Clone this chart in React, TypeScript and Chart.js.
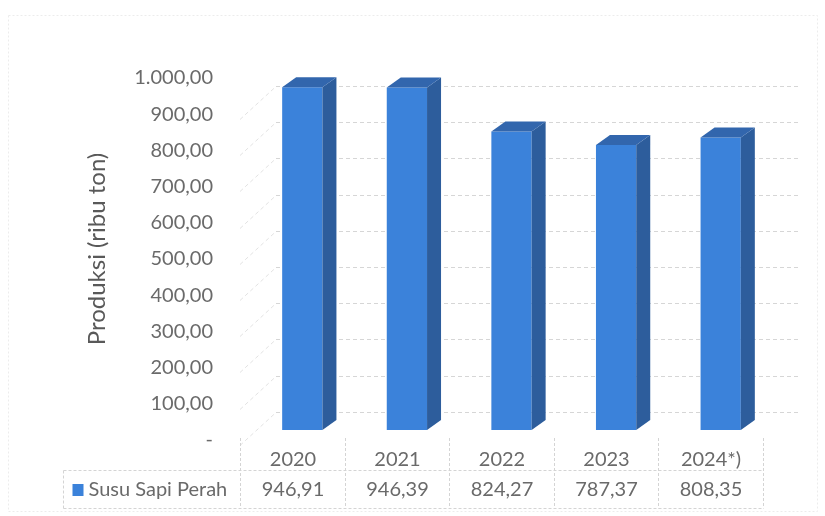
import React, { useEffect, useRef } from 'react';
import { Chart, registerables } from 'chart.js';

Chart.register(...registerables);

const categories = ['2020', '2021', '2022', '2023', '2024*)'];
const seriesName = 'Susu Sapi Perah';
const values = [946.91, 946.39, 824.27, 787.37, 808.35];
const yMin = 0;
const yMax = 1000;
const yStep = 100;
const yTitle = 'Produksi (ribu ton)';

const FONT = 'Lato';
const TEXT_COLOR = '#6a6a6a';
const FRONT = '#3b82da';
const SIDE = '#2d5d9c';
const TOP = '#3266ad';
const DEPTH_X = 14;
const DEPTH_Y = -10;

function fmt(v: number): string {
  if (v === 0) return '-';
  const s = v.toFixed(2);
  const [i, d] = s.split('.');
  return i.replace(/\B(?=(\d{3})+(?!\d))/g, '.') + ',' + d;
}

const threeD = {
  id: 'threeD',
  beforeDatasetsDraw(chart: any) {
    const { ctx, chartArea, scales } = chart;
    const y = scales.y;
    ctx.save();
    ctx.lineWidth = 1;
    ctx.setLineDash([4, 3]);
    for (let v = yMin + yStep; v <= yMax; v += yStep) {
      const py = Math.round(y.getPixelForValue(v)) + 18.5;
      ctx.strokeStyle = '#e2e2e2';
      ctx.beginPath();
      ctx.moveTo(chartArea.left - 10, py + 33);
      ctx.lineTo(chartArea.left + 26, py);
      ctx.stroke();
      ctx.strokeStyle = '#d6d6d6';
      ctx.beginPath();
      ctx.moveTo(chartArea.left + 26, py);
      ctx.lineTo(chartArea.right + 27, py);
      ctx.stroke();
    }
    ctx.restore();
  },
  afterDatasetsDraw(chart: any) {
    const { ctx } = chart;
    const meta = chart.getDatasetMeta(0);
    ctx.save();
    meta.data.forEach((bar: any) => {
      const { x, y, base, width } = bar.getProps(['x', 'y', 'base', 'width'], true);
      const l = x - width / 2;
      const r = x + width / 2;
      ctx.fillStyle = SIDE;
      ctx.beginPath();
      ctx.moveTo(r, y);
      ctx.lineTo(r + DEPTH_X, y + DEPTH_Y);
      ctx.lineTo(r + DEPTH_X, base + DEPTH_Y);
      ctx.lineTo(r, base);
      ctx.closePath();
      ctx.fill();
      ctx.fillStyle = TOP;
      ctx.beginPath();
      ctx.moveTo(l, y);
      ctx.lineTo(l + DEPTH_X, y + DEPTH_Y);
      ctx.lineTo(r + DEPTH_X, y + DEPTH_Y);
      ctx.lineTo(r, y);
      ctx.closePath();
      ctx.fill();
    });
    ctx.restore();
  },
  afterDraw(chart: any) {
    const { ctx, chartArea, scales } = chart;
    const x = scales.x;
    const n = categories.length;
    const half = (x.getPixelForValue(1) - x.getPixelForValue(0)) / 2;
    const off = -10;
    const bounds: number[] = [];
    for (let i = 0; i <= n; i++) {
      bounds.push(Math.round((i < n ? x.getPixelForValue(i) - half : x.getPixelForValue(n - 1) + half) + off) + 0.5);
    }
    const b = chartArea.bottom;
    const headTop = b + 8;
    const rowSep = Math.round(b + 40) + 0.5;
    const tBottom = Math.round(b + 78) + 0.5;
    const legendLeft = Math.round(chartArea.left - 187) + 0.5;

    ctx.save();
    ctx.strokeStyle = '#ececec';
    ctx.lineWidth = 1;
    ctx.setLineDash([2, 2]);
    ctx.strokeRect(8.5, 15.5, 809, 496);

    ctx.strokeStyle = '#d4d4d4';
    ctx.setLineDash([3, 2]);
    ctx.beginPath();
    bounds.forEach((bx) => {
      ctx.moveTo(bx, headTop);
      ctx.lineTo(bx, tBottom);
    });
    ctx.moveTo(legendLeft, rowSep);
    ctx.lineTo(legendLeft, tBottom);
    ctx.moveTo(legendLeft, rowSep);
    ctx.lineTo(bounds[n], rowSep);
    ctx.moveTo(legendLeft, tBottom);
    ctx.lineTo(bounds[n], tBottom);
    ctx.stroke();
    ctx.setLineDash([]);

    ctx.fillStyle = TEXT_COLOR;
    ctx.font = `20px ${FONT}`;
    ctx.textAlign = 'center';
    ctx.textBaseline = 'middle';
    for (let i = 0; i < n; i++) {
      const cx = (bounds[i] + bounds[i + 1]) / 2;
      ctx.fillText(categories[i], cx, b + 30);
      ctx.fillText(fmt(values[i]), cx, b + 60);
    }
    ctx.fillStyle = FRONT;
    ctx.fillRect(legendLeft + 9, b + 54, 11, 12);
    ctx.fillStyle = TEXT_COLOR;
    ctx.textAlign = 'left';
    ctx.fillText(seriesName, legendLeft + 25, b + 60);
    ctx.restore();
  },
};

export default function App() {
  const ref = useRef<HTMLCanvasElement | null>(null);
  useEffect(() => {
    if (!ref.current) return;
    const chart = new Chart(ref.current, {
      type: 'bar',
      data: {
        labels: categories,
        datasets: [
          {
            label: seriesName,
            data: values,
            backgroundColor: FRONT,
            borderWidth: 0,
            barPercentage: 0.385,
            categoryPercentage: 1,
          },
        ],
      },
      options: {
        animation: false,
        responsive: true,
        maintainAspectRatio: false,
        layout: { padding: { left: 75, right: 52, top: 68, bottom: 86 } },
        plugins: { legend: { display: false }, tooltip: { enabled: false } },
        scales: {
          x: { display: false },
          y: {
            min: yMin,
            max: yMax,
            border: { display: false },
            grid: { display: false, drawTicks: false },
            ticks: {
              stepSize: yStep,
              padding: 37,
              labelOffset: 10,
              color: TEXT_COLOR,
              font: { family: FONT, size: 20 },
              callback: (v: any) => fmt(Number(v)),
            },
            title: {
              display: true,
              text: yTitle,
              color: '#595959',
              font: { family: FONT, size: 24 },
              padding: { top: 8, bottom: 0 },
            },
            afterFit: (scale: any) => {
              scale.width = 175;
            },
          },
        },
      },
      plugins: [threeD],
    });
    return () => chart.destroy();
  }, []);
  return (
    <div style={{ position: 'absolute', left: 0, top: 0, width: 825, height: 516, background: '#fff' }}>
      <canvas ref={ref} />
    </div>
  );
}
